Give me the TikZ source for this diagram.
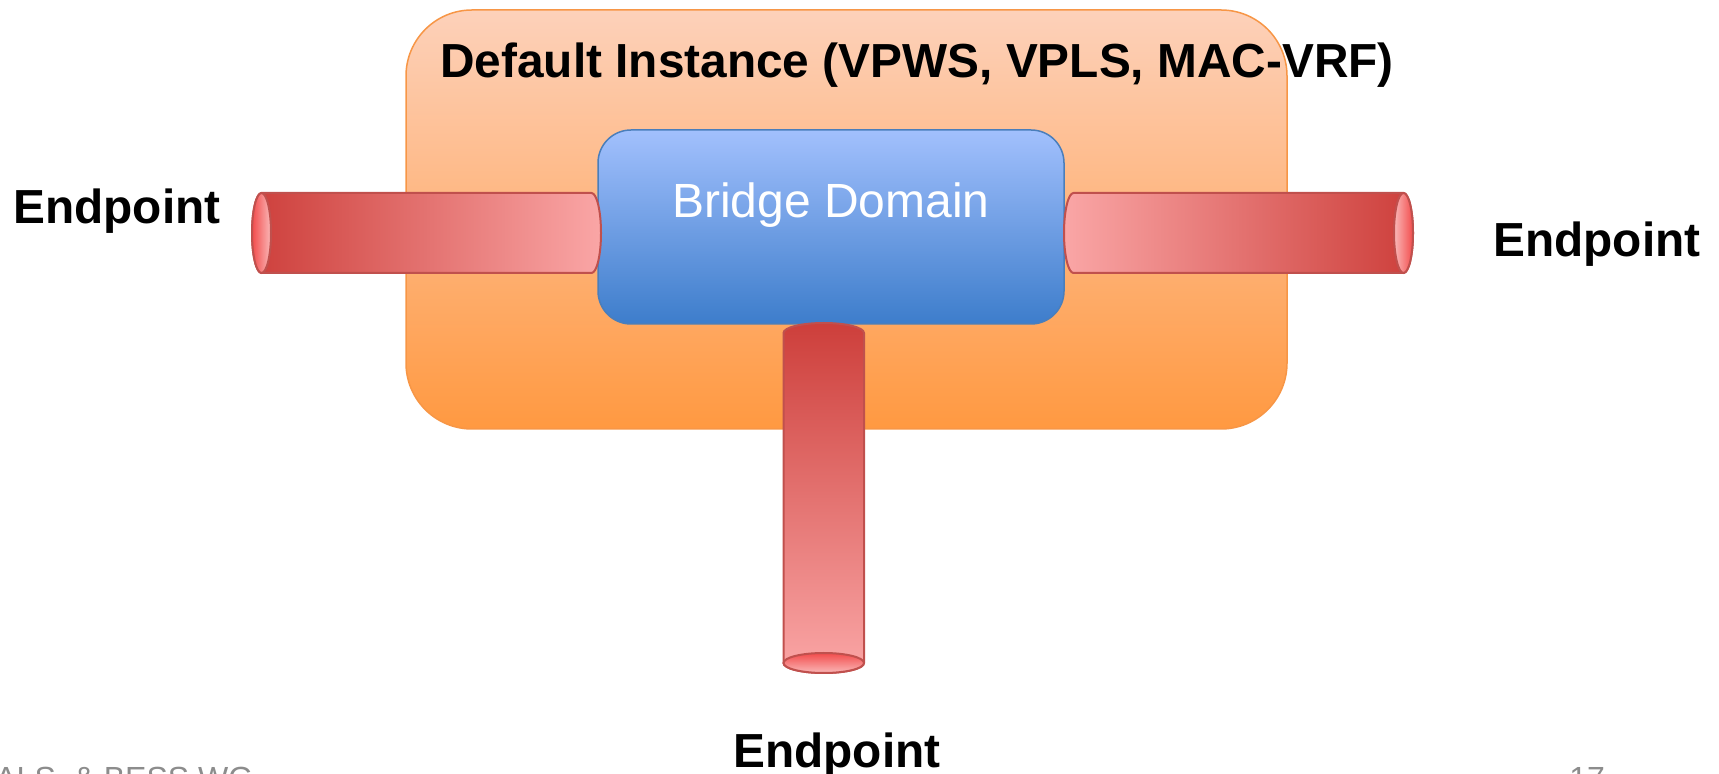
\documentclass[tikz,border=0pt]{standalone}
\usepackage{fontspec}
\setmainfont{Liberation Sans}
\definecolor{insttop}{HTML}{FDD1BA}
\definecolor{instbot}{HTML}{FF9941}
\definecolor{instline}{HTML}{F79646}
\definecolor{bdtop}{HTML}{A2C0FD}
\definecolor{bdbot}{HTML}{3D7DCB}
\definecolor{bdline}{HTML}{4A7EBB}
\definecolor{pipedark}{HTML}{CD3F3B}
\definecolor{pipelight}{HTML}{FAA6A6}
\definecolor{pipeline}{HTML}{C0504D}
\definecolor{facered}{HTML}{F24C4C}
\definecolor{facelight}{HTML}{FAB8B8}
\definecolor{footgrey}{HTML}{8C8C8C}
\begin{document}
\begin{tikzpicture}[x=0.5pt,y=-0.5pt,
    pipe/.style={draw=pipeline,line width=1pt},
    endpt/.style={font=\bfseries\fontsize{23.9}{28}\selectfont,anchor=base west,inner sep=0pt},
    foot/.style={text=footgrey,font=\fontsize{16}{19}\selectfont,anchor=base west,inner sep=0pt}]
      \useasboundingbox (0,0) rectangle (1719,774);
      \clip (0,0) rectangle (1719,774);
      % boxes
      \node (inst) [draw=instline,line width=0.75pt,rounded corners=33pt,
        top color=insttop,bottom color=instbot,
        minimum width=440.5pt,minimum height=209.5pt] at (846.5,219.5) {};
      \node (bd) [draw=bdline,line width=0.75pt,rounded corners=16.5pt,
        top color=bdtop,bottom color=bdbot,
        minimum width=233pt,minimum height=97pt] at (831,227) {};
      % pipes
      \draw[pipe,left color=pipedark,right color=pipelight]
        (261.5,193) -- (591.5,193) arc[start angle=-90,end angle=90,x radius=9.5,y radius=40]
        -- (261.5,273) arc[start angle=90,end angle=270,x radius=9.5,y radius=40] -- cycle;
      \draw[pipe,left color=facered,right color=facelight] (261.5,233) ellipse[x radius=9.5,y radius=40];
      \draw[pipe,left color=pipelight,right color=pipedark]
        (1073.5,193) -- (1403.5,193) arc[start angle=-90,end angle=90,x radius=9.5,y radius=40]
        -- (1073.5,273) arc[start angle=90,end angle=270,x radius=9.5,y radius=40] -- cycle;
      \draw[pipe,left color=facelight,right color=facered] (1403.5,233) ellipse[x radius=9.5,y radius=40];
      \draw[pipe,top color=pipedark,bottom color=pipelight]
        (783.5,333) arc[start angle=180,end angle=360,x radius=40.25,y radius=10]
        -- (864,663) arc[start angle=0,end angle=180,x radius=40.25,y radius=10] -- cycle;
      \draw[pipe,top color=facered,bottom color=facelight] (823.75,663) ellipse[x radius=40.25,y radius=10];
      % texts
      \node (title) [endpt] at (440,78) {Default Instance (VPWS, VPLS, MAC-VRF)};
      \node (bdtext) [anchor=base,inner sep=0pt,text=white,font=\fontsize{24}{28}\selectfont] at (831,218) {Bridge Domain};
      \node (epleft) [endpt] at (13,224) {Endpoint};
      \node (epright) [endpt] at (1493,257) {Endpoint};
      \node (epbottom) [endpt] at (733,767) {Endpoint};
      \node (footleft) [foot] at (-5,789) {ALS, \& BESS WG};
      \node (footright) [foot] at (1569,789) {17};
    \end{tikzpicture}
\end{document}
